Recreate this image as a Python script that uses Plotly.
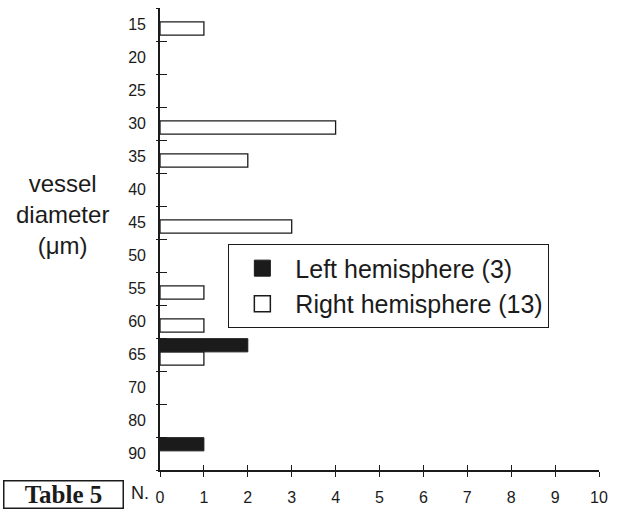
import plotly.graph_objects as go

# ---- data ----
diameters = ["15", "20", "25", "30", "35", "40", "45", "50", "55", "60", "65", "70", "80", "90"]
left_hemisphere = [0, 0, 0, 0, 0, 0, 0, 0, 0, 0, 2, 0, 0, 1]
right_hemisphere = [1, 0, 0, 4, 2, 0, 3, 0, 1, 1, 1, 0, 0, 0]
x_ticks = list(range(0, 11))
left_name = "Left hemisphere (3)"
right_name = "Right hemisphere (13)"

n = len(diameters)
pos = list(range(n))
bounds = [i - 0.5 for i in range(n + 1)]
yr = [n - 0.5, -0.5]

FONT = "Liberation Sans, Arial, Helvetica, sans-serif"
INK = "#1b1b1b"

def nz(vals):
    return [v if v else None for v in vals]

fig = go.Figure()

# legend entries
fig.add_trace(go.Scatter(x=[None], y=[None], mode="markers", name=left_name,
                         marker=dict(symbol="square", size=16, color=INK,
                                     line=dict(color=INK, width=1))))
fig.add_trace(go.Scatter(x=[None], y=[None], mode="markers", name=right_name,
                         marker=dict(symbol="square", size=16, color="white",
                                     line=dict(color=INK, width=1.5))))

# white bars on (x, y2) ; black bars on (x2, y3)
fig.add_trace(go.Bar(
    y=pos, x=nz(right_hemisphere), orientation="h", xaxis="x", yaxis="y2",
    offset=-0.08, width=0.4,
    marker=dict(color="white", line=dict(color=INK, width=1.3)),
    showlegend=False, hoverinfo="skip"))
fig.add_trace(go.Bar(
    y=pos, x=nz(left_hemisphere), orientation="h", xaxis="x2", yaxis="y3",
    offset=-0.48, width=0.4,
    marker=dict(color=INK, line=dict(color=INK, width=1)),
    showlegend=False, hoverinfo="skip"))

fig.update_layout(
    width=618, height=514,
    margin=dict(l=160, r=19, t=8, b=42),
    paper_bgcolor="white", plot_bgcolor="white",
    font=dict(family=FONT, color=INK),
    barmode="overlay",
    xaxis=dict(type="linear", range=[0, 10], tickmode="array", tickvals=x_ticks,
               ticktext=[str(v) for v in x_ticks],
               ticks="outside", ticklen=5, tickwidth=1.3, tickcolor=INK,
               showline=True, linecolor=INK, linewidth=1.5,
               showgrid=False, zeroline=False,
               tickfont=dict(size=16, family=FONT, color=INK),
               ticklabelstandoff=7),
    xaxis2=dict(type="linear", range=[0, 10], overlaying="x", anchor="y3", side="bottom",
                tickmode="array", tickvals=x_ticks,
                ticks="inside", ticklen=5, tickwidth=1.3, tickcolor=INK,
                showticklabels=False, showline=False, showgrid=False, zeroline=False),
    yaxis=dict(type="linear", range=yr, tickmode="array", tickvals=bounds,
               ticks="inside", ticklen=7, tickwidth=1.3, tickcolor=INK,
               showticklabels=False,
               showline=True, linecolor=INK, linewidth=1.5,
               showgrid=False, zeroline=False),
    yaxis2=dict(type="linear", range=yr, overlaying="y", anchor="x", side="left",
                tickmode="array", tickvals=pos, ticktext=diameters,
                ticks="", showline=False, showgrid=False, zeroline=False,
                tickfont=dict(size=16, family=FONT, color=INK),
                ticklabelstandoff=13),
    yaxis3=dict(type="linear", range=yr, overlaying="y", anchor="x2", side="left",
                tickmode="array", tickvals=bounds,
                ticks="outside", ticklen=3, tickwidth=1.3, tickcolor=INK,
                showticklabels=False, showline=False, showgrid=False, zeroline=False),
    legend=dict(x=0.155, y=0.489, xanchor="left", yanchor="top",
                bordercolor=INK, borderwidth=1.3, bgcolor="white",
                font=dict(size=25, family=FONT, color=INK),
                itemwidth=56, traceorder="normal"),
)

fig.add_annotation(text="vessel<br>diameter<br>(μm)", xref="paper", yref="paper",
                   x=-0.223, y=0.553, xanchor="center", yanchor="middle",
                   showarrow=False, align="center",
                   font=dict(size=24, family=FONT, color=INK))
fig.add_annotation(text="N.", xref="paper", yref="paper",
                   x=-0.02, y=-0.05, xanchor="right", yanchor="middle",
                   showarrow=False, font=dict(size=18, family=FONT, color=INK))
fig.add_annotation(text="<b>Table 5</b>", xref="paper", yref="paper",
                   x=-0.358, y=-0.052, xanchor="left", yanchor="middle",
                   showarrow=False, width=114, height=22, borderpad=2,
                   bordercolor=INK, borderwidth=1.5, align="center",
                   font=dict(size=25, family="Liberation Serif, Times New Roman, serif", color=INK))

fig.write_html("out.html")
